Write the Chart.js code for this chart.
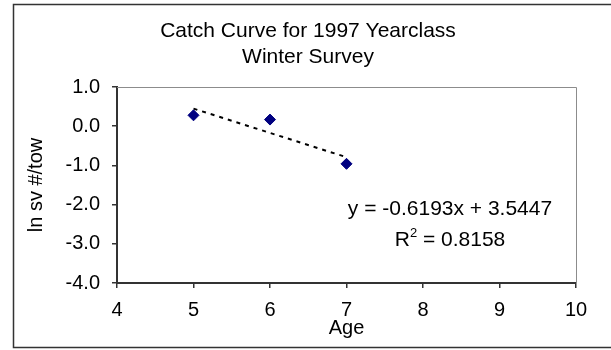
<!DOCTYPE html>
<html>
<head>
<meta charset="utf-8">
<script src="https://cdn.jsdelivr.net/npm/chart.js@4.4.1/dist/chart.umd.min.js"></script>
<style>
  html, body { margin: 0; padding: 0; background: #ffffff; }
  #wrap { width: 611px; height: 350px; position: relative; }
</style>
</head>
<body>
<div id="wrap"><canvas id="c" width="611" height="350"></canvas></div>
<script>
// Catch curve data: age vs ln(survey catch per tow)
const ages = [5, 6, 7];
const lnPerTow = [0.278, 0.169, -0.960];

// Least-squares fit reported on the chart
const slope = -0.6193;
const intercept = 3.5447;
const rSquared = 0.8158;

const titleLines = ['Catch Curve for 1997 Yearclass', 'Winter Survey'];
const xTicks = [4, 5, 6, 7, 8, 9, 10];
const yTicks = [1, 0, -1, -2, -3, -4];

const FONT = "'Liberation Sans', Arial, sans-serif";

const points = ages.map((a, i) => ({ x: a, y: lnPerTow[i] }));
const fitEnds = [ages[0], ages[ages.length - 1]].map(a => ({ x: a, y: slope * a + intercept }));

// Frame, plot-area outline, title and regression text
const decor = {
  id: 'decor',
  beforeDraw(chart) {
    const ctx = chart.ctx;
    ctx.save();
    ctx.fillStyle = '#ffffff';
    ctx.fillRect(0, 0, chart.width, chart.height);
    ctx.restore();
  },
  afterDraw(chart) {
    const ctx = chart.ctx;
    const a = chart.chartArea;
    ctx.save();
    // outer frame
    ctx.strokeStyle = '#333333';
    ctx.lineWidth = 1.5;
    ctx.beginPath();
    ctx.moveTo(chart.width + 2, 4.5);
    ctx.lineTo(13.5, 4.5);
    ctx.lineTo(13.5, 347.5);
    ctx.lineTo(chart.width + 2, 347.5);
    ctx.stroke();
    // plot area top and right edges
    ctx.strokeStyle = '#8c8c8c';
    ctx.lineWidth = 1;
    ctx.beginPath();
    ctx.moveTo(a.left, a.top + 0.5);
    ctx.lineTo(a.right + 0.5, a.top + 0.5);
    ctx.lineTo(a.right + 0.5, a.bottom);
    ctx.stroke();
    // title
    ctx.fillStyle = '#000000';
    ctx.font = '21px ' + FONT;
    ctx.textAlign = 'center';
    ctx.textBaseline = 'alphabetic';
    ctx.fillText(titleLines[0], 308, 37);
    ctx.fillText(titleLines[1], 308, 63);
    // regression equation and R²
    const cx = 450;
    const eq = 'y = ' + slope.toFixed(4) + 'x + ' + intercept.toFixed(4);
    ctx.fillText(eq, cx, 215);
    const left = 'R';
    const right = ' = ' + rSquared.toFixed(4);
    ctx.font = '21px ' + FONT;
    const wl = ctx.measureText(left).width;
    const wr = ctx.measureText(right).width;
    ctx.font = '13px ' + FONT;
    const ws = ctx.measureText('2').width;
    const total = wl + ws + wr;
    const x0 = cx - total / 2;
    ctx.textAlign = 'left';
    ctx.font = '21px ' + FONT;
    ctx.fillText(left, x0, 246);
    ctx.font = '13px ' + FONT;
    ctx.fillText('2', x0 + wl, 237);
    ctx.font = '21px ' + FONT;
    ctx.fillText(right, x0 + wl + ws, 246);
    ctx.restore();
  }
};

new Chart(document.getElementById('c'), {
  type: 'scatter',
  data: {
    datasets: [
      {
        label: 'ln sv #/tow',
        data: points,
        pointStyle: 'rectRot',
        pointRadius: 5.5,
        pointHoverRadius: 5.5,
        backgroundColor: '#000080',
        borderColor: '#000080',
        borderWidth: 1,
        order: 1
      },
      {
        label: 'Linear fit',
        type: 'line',
        data: fitEnds,
        borderColor: '#000000',
        borderWidth: 2,
        borderDash: [4, 5],
        pointRadius: 0,
        fill: false,
        order: 2
      }
    ]
  },
  options: {
    responsive: false,
    animation: false,
    events: [],
    layout: { padding: { left: 0, right: 35, top: 87, bottom: 0 } },
    plugins: {
      legend: { display: false },
      title: { display: false },
      tooltip: { enabled: false }
    },
    scales: {
      x: {
        type: 'linear',
        min: xTicks[0],
        max: xTicks[xTicks.length - 1],
        afterBuildTicks: s => { s.ticks = xTicks.map(v => ({ value: v })); },
        afterFit: s => { s.height = 67; },
        ticks: {
          color: '#000000',
          font: { family: FONT, size: 20 },
          padding: 10,
          maxRotation: 0,
          callback: v => String(v)
        },
        grid: { drawOnChartArea: false, drawTicks: true, tickLength: 5, color: '#333333', lineWidth: 1.5 },
        border: { display: true, color: '#333333', width: 2 },
        title: {
          display: true,
          text: 'Age',
          color: '#000000',
          font: { family: FONT, size: 20 },
          padding: { top: 0, bottom: 10 }
        }
      },
      y: {
        type: 'linear',
        min: yTicks[yTicks.length - 1],
        max: yTicks[0],
        afterBuildTicks: s => { s.ticks = yTicks.slice().reverse().map(v => ({ value: v })); },
        afterFit: s => { s.width = 117; },
        ticks: {
          color: '#000000',
          font: { family: FONT, size: 20 },
          padding: 12,
          callback: v => Number(v).toFixed(1)
        },
        grid: { drawOnChartArea: false, drawTicks: true, tickLength: 5, color: '#333333', lineWidth: 1.5 },
        border: { display: true, color: '#333333', width: 2 },
        title: {
          display: true,
          text: 'ln sv #/tow',
          color: '#000000',
          font: { family: FONT, size: 20 },
          padding: { top: 24, bottom: 0 }
        }
      }
    }
  },
  plugins: [decor]
});
</script>
</body>
</html>
